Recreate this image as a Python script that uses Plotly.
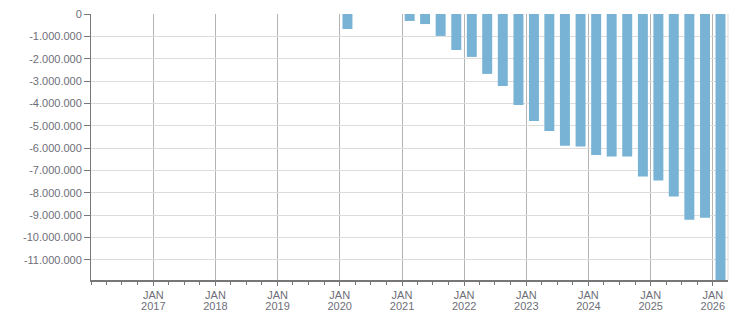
import plotly.graph_objects as go

quarters = ["2020-01-01", "2021-01-01", "2021-04-01", "2021-07-01", "2021-10-01",
            "2022-01-01", "2022-04-01", "2022-07-01", "2022-10-01",
            "2023-01-01", "2023-04-01", "2023-07-01", "2023-10-01",
            "2024-01-01", "2024-04-01", "2024-07-01", "2024-10-01",
            "2025-01-01", "2025-04-01", "2025-07-01", "2025-10-01",
            "2026-01-01"]
values = [-670000, -310000, -450000, -980000, -1610000,
          -1920000, -2680000, -3220000, -4070000,
          -4790000, -5230000, -5890000, -5930000,
          -6310000, -6380000, -6380000, -7270000,
          -7450000, -8170000, -9200000, -9110000,
          -12100000]

x_tick_vals = ["2017-01-01", "2018-01-01", "2019-01-01", "2020-01-01", "2021-01-01",
               "2022-01-01", "2023-01-01", "2024-01-01", "2025-01-01", "2026-01-01"]
x_tick_month = ["JAN"] * 10
x_tick_year = ["2017", "2018", "2019", "2020", "2021",
               "2022", "2023", "2024", "2025", "2026"]
y_tick_vals = [0, -1e6, -2e6, -3e6, -4e6, -5e6, -6e6, -7e6, -8e6, -9e6, -10e6, -11e6]
y_tick_text = ["0", "-1.000.000", "-2.000.000", "-3.000.000", "-4.000.000", "-5.000.000",
               "-6.000.000", "-7.000.000", "-8.000.000", "-9.000.000", "-10.000.000", "-11.000.000"]

DAY_MS = 86400000
X_RANGE = ["2016-01-01", "2026-03-31"]

fig = go.Figure()
fig.add_trace(go.Bar(
    x=quarters, y=values,
    xperiod="M3", xperiodalignment="middle",
    width=58.5 * DAY_MS,
    marker=dict(color="#78b2d4", line=dict(width=0)),
))
# invisible helper trace so the year-label axis is drawn
fig.add_trace(go.Scatter(
    x=quarters, y=values, xaxis="x2", mode="markers",
    marker=dict(opacity=0), hoverinfo="skip", showlegend=False,
))

font = dict(family="Liberation Sans, Arial, sans-serif", size=11, color="#6e6e78")

fig.update_layout(
    width=751, height=313,
    margin=dict(l=91, r=23, t=14, b=33),
    paper_bgcolor="white", plot_bgcolor="white",
    showlegend=False,
    font=font,
    xaxis=dict(
        type="date",
        range=X_RANGE,
        tickmode="array", tickvals=x_tick_vals, ticktext=x_tick_month,
        showgrid=True, gridcolor="#b4b4b4", gridwidth=1,
        showline=True, linecolor="#777777", linewidth=2,
        ticks="outside", ticklen=4, tickcolor="#777777", tickwidth=1,
        minor=dict(tickmode="linear", tick0="2016-01-01", dtick="M3",
                   ticks="outside", ticklen=3, tickcolor="#777777", showgrid=False),
        tickfont=font,
        zeroline=False,
        automargin=False,
        fixedrange=True,
    ),
    xaxis2=dict(
        type="date",
        overlaying="x", anchor="y", side="bottom",
        range=X_RANGE,
        tickmode="array", tickvals=x_tick_vals, ticktext=x_tick_year,
        showgrid=False, showline=False, zeroline=False,
        ticks="outside", ticklen=4, tickcolor="rgba(0,0,0,0)",
        ticklabelstandoff=12,
        tickfont=font,
        automargin=False,
        fixedrange=True,
    ),
    yaxis=dict(
        range=[-11.9e6, 0],
        tickmode="array", tickvals=y_tick_vals, ticktext=y_tick_text,
        showgrid=True, gridcolor="#dcdcdc", gridwidth=1,
        showline=True, linecolor="#777777", linewidth=1,
        ticks="outside", ticklen=6, tickcolor="#777777", tickwidth=1,
        tickfont=font,
        zeroline=False,
        automargin=False,
        fixedrange=True,
    ),
    shapes=[dict(type="line", xref="paper", yref="paper", x0=1, x1=1, y0=0, y1=1,
                 line=dict(color="#dcdcdc", width=1), layer="below")],
)

fig.write_html("out.html", config={"displayModeBar": False})
